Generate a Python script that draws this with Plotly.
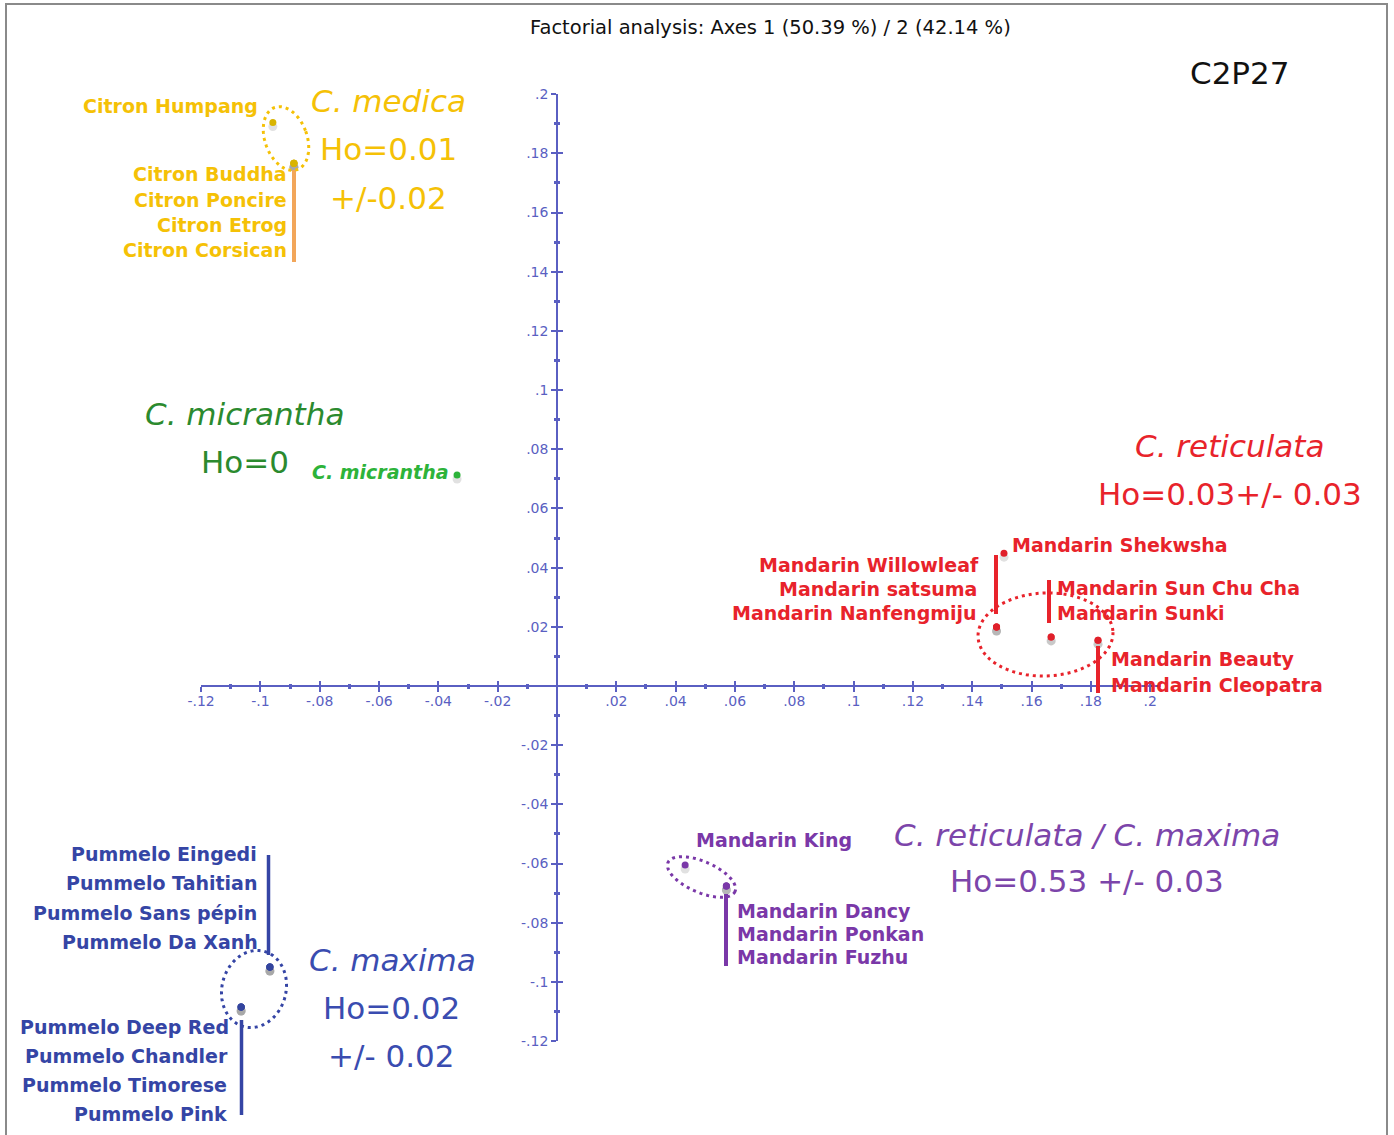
import math
import plotly.graph_objects as go

# ---------------- data ----------------
accessions = [
    "Citron Humpang", "Citron Buddha", "Citron Poncire", "Citron Etrog", "Citron Corsican",
    "C. micrantha",
    "Mandarin Shekwsha", "Mandarin Willowleaf", "Mandarin satsuma", "Mandarin Nanfengmiju",
    "Mandarin Sun Chu Cha", "Mandarin Sunki", "Mandarin Beauty", "Mandarin Cleopatra",
    "Mandarin King", "Mandarin Dancy", "Mandarin Ponkan", "Mandarin Fuzhu",
    "Pummelo Eingedi", "Pummelo Tahitian", "Pummelo Sans pépin", "Pummelo Da Xanh",
    "Pummelo Deep Red", "Pummelo Chandler", "Pummelo Timorese", "Pummelo Pink",
]
species = (["medica"] * 5 + ["micrantha"] + ["reticulata"] * 8 + ["hybrid"] * 4 + ["maxima"] * 8)
axis1 = [-0.0958, -0.0887, -0.0887, -0.0887, -0.0887,
         -0.0337,
         0.1507, 0.1482, 0.1482, 0.1482, 0.1666, 0.1666, 0.1824, 0.1824,
         0.0432, 0.0571, 0.0571, 0.0571,
         -0.0968, -0.0968, -0.0968, -0.0968, -0.1065, -0.1065, -0.1065, -0.1065]
axis2 = [0.1904, 0.1767, 0.1767, 0.1767, 0.1767,
         0.0713,
         0.0449, 0.0199, 0.0199, 0.0199, 0.0166, 0.0166, 0.0155, 0.0155,
         -0.0605, -0.0676, -0.0676, -0.0676,
         -0.0950, -0.0950, -0.0950, -0.0950, -0.1085, -0.1085, -0.1085, -0.1085]

species_names = ["medica", "micrantha", "reticulata", "hybrid", "maxima"]
species_titles = ["C. medica", "C. micrantha", "C. reticulata", "C. reticulata / C. maxima", "C. maxima"]
species_ho = ["Ho=0.01", "Ho=0", "Ho=0.03+/- 0.03", "Ho=0.53 +/- 0.03", "Ho=0.02"]
species_ho2 = ["+/-0.02", "", "", "", "+/- 0.02"]

tick_vals = [round(-0.12 + 0.02 * i, 2) for i in range(17)]
minor_vals = [round(-0.11 + 0.02 * i, 2) for i in range(16)]
title_text = "Factorial analysis: Axes 1 (50.39 %) / 2 (42.14 %)"
corner_text = "C2P27"

# ---------------- layout helpers ----------------
W, H = 1394, 1135
X0PX, Y0PX = 557.0, 686.0
SX, SY = 2966.0, 2959.0


def dx(px):
    return (px - X0PX) / SX


def dy(py):
    return (Y0PX - py) / SY


def fmt(v):
    s = ("%.2f" % abs(v)).rstrip("0").rstrip(".")
    s = s.lstrip("0")
    return ("-" if v < 0 else "") + s


label_col = {"medica": "#F5C106", "micrantha": "#2DB33A", "reticulata": "#E8232B",
             "hybrid": "#7A38A8", "maxima": "#3545A5"}
big_col = {"medica": "#F5C106", "micrantha": "#2B8A2E", "reticulata": "#E8232B",
           "hybrid": "#7C45AA", "maxima": "#3A4CB0"}
dot_col = {"medica": "#D9B400", "micrantha": "#2DB33A", "reticulata": "#E0202A",
           "hybrid": "#7A38A8", "maxima": "#33449E"}
AXC = "#5A5FC2"

fig = go.Figure()

# shadows + points
fig.add_trace(go.Scatter(x=axis1, y=[v - 4 / SY for v in axis2], mode="markers",
                         marker=dict(size=9, color="rgba(120,120,120,0.22)"),
                         showlegend=False, hoverinfo="skip"))
for sp in species_names:
    xs = [a for a, s in zip(axis1, species) if s == sp]
    ys = [b for b, s in zip(axis2, species) if s == sp]
    fig.add_trace(go.Scatter(x=xs, y=ys, mode="markers",
                             marker=dict(size=7, color=dot_col[sp]),
                             showlegend=False, name=sp))

# invisible traces for the drawn axes
fig.add_trace(go.Scatter(x=[None], y=[None], xaxis="x2", yaxis="y2", showlegend=False, hoverinfo="skip"))
fig.add_trace(go.Scatter(x=[None], y=[None], xaxis="x3", yaxis="y3", showlegend=False, hoverinfo="skip"))

xr = [dx(0), dx(W)]
yr = [dy(H), dy(0)]

x_axis_range = [-0.12, 0.2035]
y_axis_range = [-0.12, 0.2]
xdom = [(X0PX + x_axis_range[0] * SX) / W, (X0PX + x_axis_range[1] * SX) / W]
ydom = [1 - (Y0PX - y_axis_range[0] * SY) / H, 1 - (Y0PX - y_axis_range[1] * SY) / H]
xpos = 1 - Y0PX / H
ypos = X0PX / W

tv = [v for v in tick_vals if abs(v) > 1e-9]
tt = [fmt(v) for v in tv]
tickfont = dict(family="DejaVu Sans", size=14, color=AXC)

common = dict(showgrid=False, zeroline=False, fixedrange=True, tickmode="array",
              tickvals=tv, tickcolor=AXC, tickwidth=1.6, ticklen=5, automargin=False)

layout_axes = dict(
    xaxis=dict(range=xr, domain=[0, 1], visible=False, fixedrange=True, automargin=False),
    yaxis=dict(range=yr, domain=[0, 1], visible=False, fixedrange=True, automargin=False),
    xaxis2=dict(range=x_axis_range, domain=xdom, anchor="free", position=xpos,
                ticks="outside", ticktext=tt, tickfont=tickfont, ticklabelstandoff=-3,
                showline=True, linecolor=AXC, linewidth=1.6,
                minor=dict(tickmode="array", tickvals=minor_vals, ticks="outside",
                           ticklen=2, tickcolor=AXC, tickwidth=2.5),
                **common),
    xaxis3=dict(range=x_axis_range, domain=xdom, anchor="free", position=xpos,
                overlaying="x2", ticks="inside", showticklabels=False, showline=False,
                minor=dict(tickmode="array", tickvals=minor_vals, ticks="inside",
                           ticklen=2, tickcolor=AXC, tickwidth=2.5),
                **common),
    yaxis2=dict(range=y_axis_range, domain=ydom, anchor="free", position=ypos,
                ticks="outside", ticktext=tt, tickfont=tickfont,
                showline=True, linecolor=AXC, linewidth=1.6,
                minor=dict(tickmode="array", tickvals=minor_vals, ticks="outside",
                           ticklen=2, tickcolor=AXC, tickwidth=2.5),
                **common),
    yaxis3=dict(range=y_axis_range, domain=ydom, anchor="free", position=ypos,
                overlaying="y2", ticks="inside", showticklabels=False, showline=False,
                minor=dict(tickmode="array", tickvals=minor_vals, ticks="inside",
                           ticklen=2, tickcolor=AXC, tickwidth=2.5),
                **common),
)

# ---------------- labels ----------------
# (pixel x, pixel y, xanchor) for each accession label
label_pos = {
    "Citron Humpang": (259, 106, "right"),
    "Citron Buddha": (288, 174, "right"),
    "Citron Poncire": (288, 200, "right"),
    "Citron Etrog": (288, 225, "right"),
    "Citron Corsican": (288, 250, "right"),
    "C. micrantha": (450, 472, "right"),
    "Mandarin Shekwsha": (1011, 545, "left"),
    "Mandarin Willowleaf": (980, 565, "right"),
    "Mandarin satsuma": (978, 589, "right"),
    "Mandarin Nanfengmiju": (978, 613, "right"),
    "Mandarin Sun Chu Cha": (1056, 588, "left"),
    "Mandarin Sunki": (1056, 613, "left"),
    "Mandarin Beauty": (1110, 659, "left"),
    "Mandarin Cleopatra": (1110, 685, "left"),
    "Mandarin King": (695, 840, "left"),
    "Mandarin Dancy": (736, 911, "left"),
    "Mandarin Ponkan": (736, 934, "left"),
    "Mandarin Fuzhu": (736, 957, "left"),
    "Pummelo Eingedi": (258, 854, "right"),
    "Pummelo Tahitian": (258, 883, "right"),
    "Pummelo Sans pépin": (258, 913, "right"),
    "Pummelo Da Xanh": (259, 942, "right"),
    "Pummelo Deep Red": (230, 1027, "right"),
    "Pummelo Chandler": (229, 1056, "right"),
    "Pummelo Timorese": (228, 1085, "right"),
    "Pummelo Pink": (228, 1114, "right"),
}

annotations = []
for name, sp in zip(accessions, species):
    px, py, xa = label_pos[name]
    italic = sp == "micrantha"
    annotations.append(dict(
        x=dx(px), y=dy(py), xref="x", yref="y", text=name, showarrow=False,
        xanchor=xa, yanchor="middle", borderpad=0,
        font=dict(family="DejaVu Sans", size=19, color=label_col[sp], weight="bold",
                  style="italic" if italic else "normal")))

# group captions: (title center x, y), (ho center x, y), (ho2 center x, y)
caption_pos = {
    "medica": [(388, 101), (388, 149), (388, 198)],
    "micrantha": [(244, 414), (245, 462), None],
    "reticulata": [(1229, 446), (1230, 494), None],
    "hybrid": [(1087, 835), (1087, 881), None],
    "maxima": [(392, 960), (391, 1008), (391, 1056)],
}
BIG = 31
for sp, ttl, ho, ho2 in zip(species_names, species_titles, species_ho, species_ho2):
    p = caption_pos[sp]
    annotations.append(dict(x=dx(p[0][0]), y=dy(p[0][1]), xref="x", yref="y", text=ttl,
                            showarrow=False, xanchor="center", yanchor="middle",
                            font=dict(family="DejaVu Sans", size=BIG, color=big_col[sp], style="italic")))
    annotations.append(dict(x=dx(p[1][0]), y=dy(p[1][1]), xref="x", yref="y", text=ho,
                            showarrow=False, xanchor="center", yanchor="middle",
                            font=dict(family="DejaVu Sans", size=BIG, color=big_col[sp])))
    if ho2:
        annotations.append(dict(x=dx(p[2][0]), y=dy(p[2][1]), xref="x", yref="y", text=ho2,
                                showarrow=False, xanchor="center", yanchor="middle",
                                font=dict(family="DejaVu Sans", size=BIG, color=big_col[sp])))

annotations.append(dict(x=dx(770), y=dy(27), xref="x", yref="y", text=title_text,
                        showarrow=False, xanchor="center", yanchor="middle",
                        font=dict(family="DejaVu Sans", size=19.5, color="#111111")))
annotations.append(dict(x=dx(1240), y=dy(73), xref="x", yref="y", text=corner_text,
                        showarrow=False, xanchor="center", yanchor="middle",
                        font=dict(family="DejaVu Sans", size=31, color="#111111")))

# ---------------- shapes ----------------
shapes = []
shapes.append(dict(type="rect", xref="paper", yref="paper", x0=6 / W, x1=1387 / W,
                   y0=-0.02, y1=1 - 4 / H, line=dict(color="#8A8A8A", width=2),
                   fillcolor="rgba(0,0,0,0)", layer="below"))

# connector bars (pixel x, top y, bottom y, colour, width)
bars = [
    (294, 170, 262, "#F2A65A", 4),
    (996, 555, 614, "#E8232B", 4),
    (1049, 580, 623, "#E8232B", 4),
    (1098, 646, 693, "#E8232B", 4),
    (726, 894, 966, "#7A38A8", 4),
    (268.5, 855, 955, "#3545A5", 3.5),
    (241.5, 1020, 1115, "#3545A5", 3.5),
]
for bx, by0, by1, c, w in bars:
    shapes.append(dict(type="line", xref="x", yref="y", x0=dx(bx), x1=dx(bx),
                       y0=dy(by0), y1=dy(by1), line=dict(color=c, width=w)))


def ellipse_path(cx, cy, a, b, deg, n=120):
    th = math.radians(deg)
    pts = []
    for i in range(n):
        t = 2 * math.pi * i / n
        ex, ey = a * math.cos(t), b * math.sin(t)
        px = cx + ex * math.cos(th) - ey * math.sin(th)
        py = cy + ex * math.sin(th) + ey * math.cos(th)
        pts.append("%.6f,%.6f" % (dx(px), dy(py)))
    return "M " + " L ".join(pts) + " Z"


ellipses = [
    (286, 138.5, 21, 33, -20, "#F5C106"),
    (1045.5, 634.5, 67.5, 41.5, -2, "#E8232B"),
    (254, 989, 32, 39, 15, "#3545A5"),
    (701.5, 877, 36.5, 15.5, 23.4, "#7A38A8"),
]
for cx, cy, a, b, deg, c in ellipses:
    shapes.append(dict(type="path", xref="x", yref="y", path=ellipse_path(cx, cy, a, b, deg),
                       line=dict(color=c, width=3, dash="3px,4px"), fillcolor="rgba(0,0,0,0)"))

fig.update_layout(
    width=W, height=H, autosize=False,
    margin=dict(l=0, r=0, t=0, b=0, pad=0, autoexpand=False),
    paper_bgcolor="white", plot_bgcolor="rgba(0,0,0,0)",
    showlegend=False,
    annotations=annotations,
    shapes=shapes,
    **layout_axes,
)

fig.write_html(
    "out.html",
    post_script="document.body.style.margin='0px';document.documentElement.style.overflow='hidden';document.body.style.overflow='hidden';",
)
